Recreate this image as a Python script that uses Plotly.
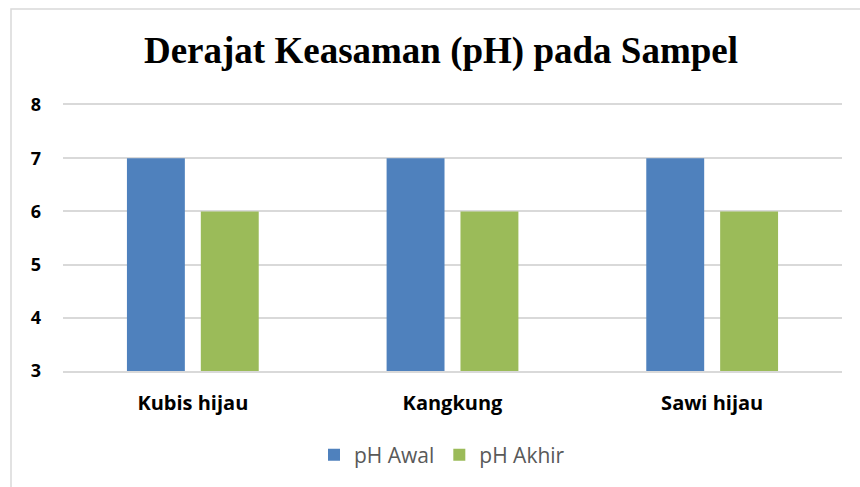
import plotly.graph_objects as go

categories = ["Kubis hijau", "Kangkung", "Sawi hijau"]
ph_awal = [7, 7, 7]
ph_akhir = [6, 6, 6]
series_names = ["pH Awal", "pH Akhir"]
y_ticks = [3, 4, 5, 6, 7, 8]

BLUE = "#4F81BD"
GREEN = "#9BBB59"
GRID = "#D9D9D9"

fig = go.Figure()
fig.add_trace(go.Bar(x=categories, y=ph_awal, name=series_names[0],
                     marker=dict(color=BLUE, line=dict(width=0)), base=0))
fig.add_trace(go.Bar(x=categories, y=ph_akhir, name=series_names[1],
                     marker=dict(color=GREEN, line=dict(width=0)), base=0))

L, R, T, B = 63, 18, 105, 116
plot_w = 860 - L - R
plot_h = 487 - T - B

def px_x(p):
    return (p - L) / plot_w

def px_y(p):
    return (487 - B - p) / plot_h

fig.update_layout(
    width=860, height=487,
    margin=dict(l=L, r=R, t=T, b=B, autoexpand=False),
    paper_bgcolor="white", plot_bgcolor="white",
    barmode="group", bargap=0.431, bargroupgap=0.216,
    title=dict(text="<b>Derajat Keasaman (pH) pada Sampel</b>",
               font=dict(family="Liberation Serif, Times New Roman, serif", size=37, color="black"),
               x=441 / 860, xanchor="center", xref="container",
               y=1 - 50 / 487, yanchor="middle", yref="container"),
    legend=dict(orientation="h", x=px_x(442), xanchor="center",
                y=px_y(455), yanchor="middle",
                font=dict(family="Open Sans, sans-serif", size=21, color="#595959"),
                itemclick=False, bgcolor="rgba(0,0,0,0)"),
    xaxis=dict(showline=True, mirror=True, linecolor=GRID, linewidth=1.5, ticks="",
               tickfont=dict(family="Open Sans, sans-serif", size=20, color="black", weight="bold"),
               ticklabelstandoff=13, showgrid=False),
    yaxis=dict(range=[3, 8], tickvals=y_ticks, showgrid=True, gridcolor=GRID, gridwidth=1.5,
               zeroline=False, showline=False, ticks="",
               tickfont=dict(family="Open Sans, sans-serif", size=18, color="black", weight="bold"),
               ticklabelstandoff=21),
    shapes=[dict(type="rect", xref="paper", yref="paper",
                 x0=px_x(11), x1=px_x(1200), y0=px_y(900), y1=px_y(9),
                 line=dict(color=GRID, width=1.5), fillcolor="rgba(0,0,0,0)", layer="below")],
)

fig.write_html("out.html", config={"displayModeBar": False},
               post_script="document.body.style.margin='0';")
